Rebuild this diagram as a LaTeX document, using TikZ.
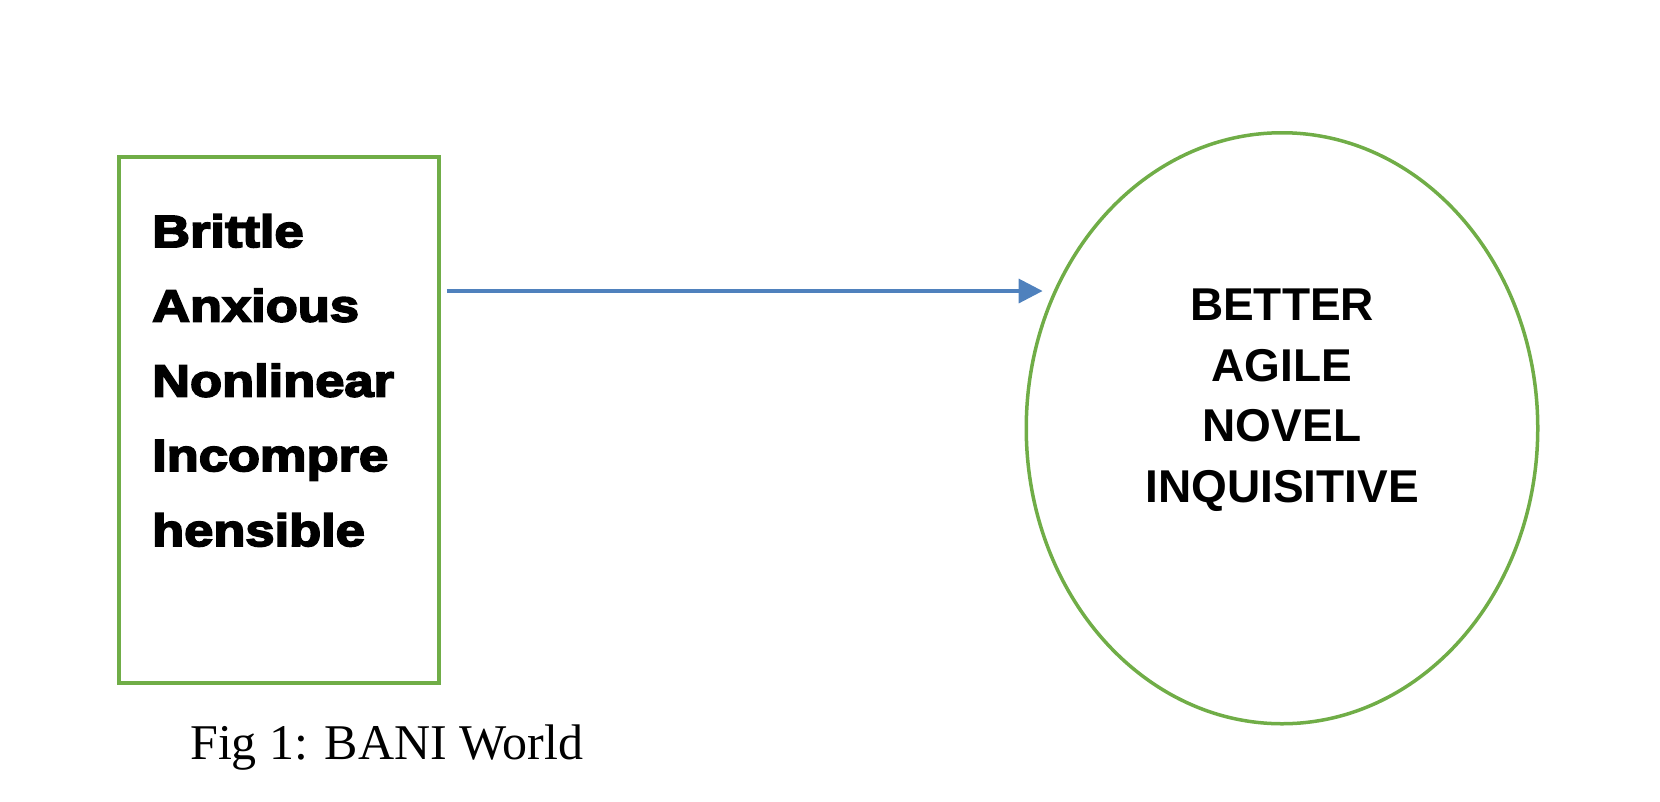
\documentclass[tikz,border=0pt]{standalone}
\usepackage{fontspec}
\setmainfont{Liberation Serif}
\newfontfamily\blackfont{Liberation Sans}[FakeStretch=1.165,BoldFeatures={FakeBold=4}]
\newfontfamily\arialfont{Liberation Sans}
\usetikzlibrary{shapes.geometric,arrows.meta}
\definecolor{offgreen}{HTML}{70AD47}
\definecolor{offblue}{HTML}{4F81BD}
\tikzset{
  leftline/.style={anchor=base west,inner sep=0pt,font=\blackfont\bfseries\fontsize{45}{54}\selectfont},
  rightline/.style={anchor=base,inner sep=0pt,font=\arialfont\bfseries\fontsize{46}{55}\selectfont},
  frame/.style={draw=offgreen,line width=3.5pt},
  arr/.style={draw=offblue,line width=3.5pt,-{Triangle[length=24pt,width=24pt]}}
}
\begin{document}
\begin{tikzpicture}[x=1pt,y=-1pt]
\useasboundingbox (0,0) rectangle (1660,801);
% left box
\node[frame,rectangle,minimum width=320pt,minimum height=526pt,inner sep=0pt] (box) at (279,420) {};
\node[leftline] (l1) at (152,247) {Brittle};
\node[leftline] (l2) at (152,321.5) {Anxious};
\node[leftline] (l3) at (152,396.5) {Nonlinear};
\node[leftline] (l4) at (152,471) {Incompre};
\node[leftline] (l5) at (152,546) {hensible};
% ellipse
\node[frame,ellipse,minimum width=511.5pt,minimum height=591pt,inner sep=0pt] (ell) at (1282,428.25) {};
\node[rightline] (r1) at (1282,320) {BETTER};
\node[rightline] (r2) at (1282,381) {AGILE};
\node[rightline] (r3) at (1282,441.5) {NOVEL};
\node[rightline] (r4) at (1282,502) {INQUISITIVE};
% arrow
\draw[arr] ([xshift=6pt]box.east |- ell.149) -- ([xshift=-11pt]ell.149);
% caption
\node[anchor=base west,inner sep=0pt,font=\fontsize{50}{60}\selectfont] (cap) at (190,759) {Fig 1: BANI World};
\end{tikzpicture}
\end{document}
